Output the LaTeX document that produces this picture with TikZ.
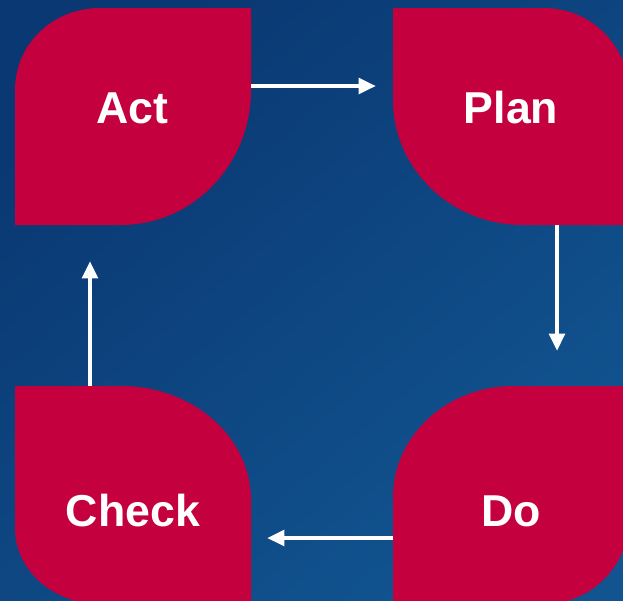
\documentclass[tikz,border=0pt]{standalone}
\usepackage{fontspec}
\setmainfont{Liberation Sans}
\usetikzlibrary{arrows.meta}
\definecolor{leafred}{RGB}{196,0,63}
\definecolor{bgdark}{RGB}{10,56,114}
\definecolor{bglight}{RGB}{17,84,144}
\begin{document}
\begin{tikzpicture}[x=0.75pt,y=-0.75pt,
  leaf/.style={fill=leafred, draw=none},
  leaftext/.style={text=white, font=\bfseries\fontsize{33.5}{40}\selectfont, inner sep=0pt, anchor=base},
  flow/.style={draw=white, line width=3.6pt, -{Triangle[length=13pt,width=11.5pt]}}]
\useasboundingbox (0,0) rectangle (623,600);
\clip (0,0) rectangle (623,600);
\shade[top color=bgdark, bottom color=bglight, shading angle=40] (0,0) rectangle (623,600);
% Act
\fill[leaf] (100,8) -- (251,8) -- (251,90) .. controls (251,164.5) and (192.8,225) .. (121,225) -- (15,225) -- (15,90) .. controls (15,44) and (53,8) .. (100,8) -- cycle;
% Plan
\fill[leaf] (393,8) -- (544,8) .. controls (591,8) and (629,46) .. (629,93) -- (629,225) -- (523,225) .. controls (451.2,225) and (393,169) .. (393,100) -- cycle;
% Check
\fill[leaf] (15,386) -- (121,386) .. controls (192.8,386) and (251,437) .. (251,500) -- (251,604) -- (100,604) .. controls (53,604) and (15,570) .. (15,528) -- cycle;
% Do
\fill[leaf] (513,386) -- (629,386) -- (629,519) .. controls (629,566) and (591,604) .. (544,604) -- (393,604) -- (393,497) .. controls (393,436) and (447,386) .. (513,386) -- cycle;
% texts
\node[leaftext] (act) at (132.5,123.3) {Act};
\node[leaftext] (plan) at (511,123.3) {Plan};
\node[leaftext] (check) at (133,526.7) {Check};
\node[leaftext] (do) at (511,526.7) {Do};
% connector ends
\coordinate (ap1) at (251,86);
\coordinate (ap2) at (376,86);
\coordinate (pd1) at (557,225);
\coordinate (pd2) at (557,351);
\coordinate (dc1) at (393,538);
\coordinate (dc2) at (267,538);
\coordinate (ca1) at (90,386);
\coordinate (ca2) at (90,261);
\draw[flow] (ap1) -- (ap2);
\draw[flow] (pd1) -- (pd2);
\draw[flow] (dc1) -- (dc2);
\draw[flow] (ca1) -- (ca2);
\end{tikzpicture}
\end{document}
